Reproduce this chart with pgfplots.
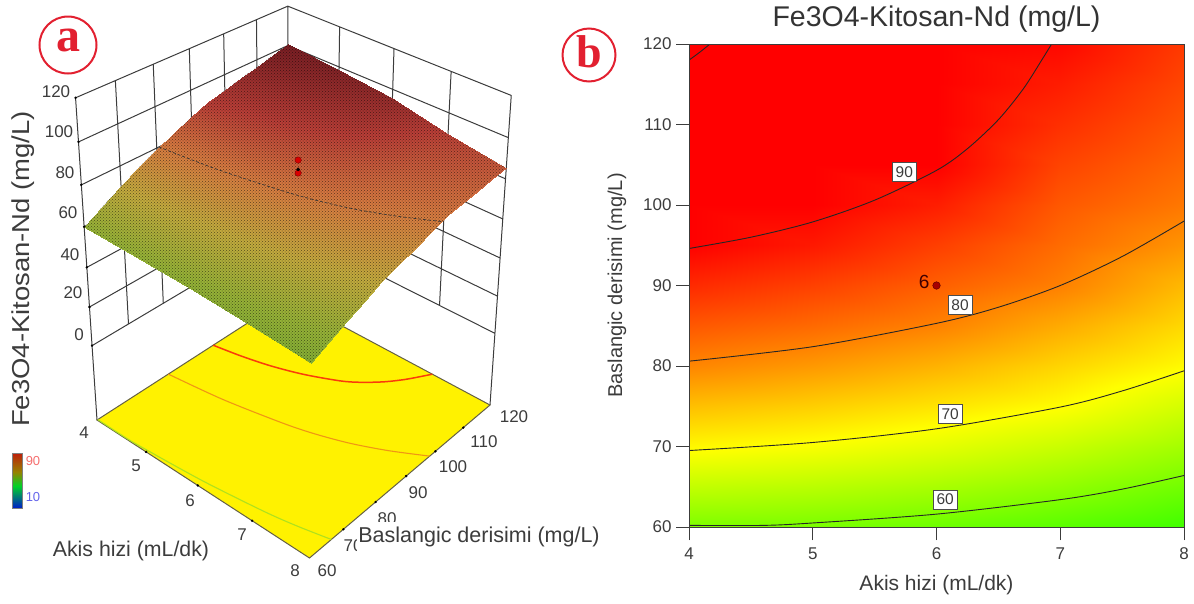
\documentclass[border=0pt]{standalone}
\usepackage{pgfplots}
\usepackage{pgfplotstable}
\usepackage{fontspec}
\usetikzlibrary{patterns}
\setmainfont{Liberation Sans}
\newfontfamily\serifb{Liberation Serif}[BoldFont={Liberation Serif Bold}]
\pgfplotsset{compat=1.18}
\definecolor{tx}{RGB}{60,60,60}
\definecolor{wallc}{RGB}{60,60,60}
\definecolor{circ}{RGB}{226,32,48}
\pgfplotsset{
  /pgf/declare function={
    Uu(\a)=(\a-4)/4; Vv(\b)=(\b-60)/60; Ww(\c)=(\c+40)/160;
    Dd(\a,\b,\c)=1-0.09774*Uu(\a)+0.13931*Vv(\b)-0.10*Ww(\c);
    PX(\a,\b,\c)=(97+182.25*Uu(\a)+231.12*Vv(\b)-29*Ww(\c))/Dd(\a,\b,\c);
    PY(\a,\b,\c)=(420+83.46*Uu(\a)-81.62*Vv(\b)-332*Ww(\c))/Dd(\a,\b,\c);
  },
  /pgfplots/table/proj/.style={x expr={PX(\thisrow{x},\thisrow{y},\thisrow{z})},y expr={PY(\thisrow{x},\thisrow{y},\thisrow{z})}},
  /pgfplots/table/projz/.style={x expr={PX(\thisrow{x},\thisrow{y},#1)},y expr={PY(\thisrow{x},\thisrow{y},#1)}},
}
\pgfplotstableread{
x y z
4 60 59.8
4 65 65.2
4 70 70.5
4 75 75
4 80 79.5
4 85 83.1
4 90 86.7
4 95 90.2
4 100 92.3
4 105 94.4
4 110 96.6
4 115 98.7
4 120 100.9
5 60 59.5
5 65 64.5
5 70 69.5
5 75 73.8
5 80 78
5 85 81.7
5 90 84.9
5 95 88.1
5 100 90.8
5 105 92.7
5 110 94.6
5 115 96.5
5 120 98.4
6 60 58.5
6 65 63.2
6 70 67.9
6 75 72.1
6 80 76
6 85 79.8
6 90 82.5
6 95 85.1
6 100 87.7
6 105 90.2
6 110 92
6 115 93.7
6 120 95.5
7 60 57
7 65 61.4
7 70 65.7
7 75 70.1
7 80 73.3
7 85 76.6
7 90 79.9
7 95 81.6
7 100 83.1
7 105 84.7
7 110 86.3
7 115 87.8
7 120 89.4
8 60 55
8 65 58.9
8 70 62.8
8 75 66.6
8 80 70.3
8 85 73
8 90 75.5
8 95 78.4
8 100 80.6
8 105 82
8 110 83.3
8 115 84.5
8 120 85.5
}\surfdata
\pgfplotstableread{
x y z
4 60 59.8
4 70 70.5
4 80 79.5
4 90 86.7
4 100 92.3
4 110 96.6
4 120 100.9
5 120 98.4
6 120 95.5
7 120 89.4
8 120 85.5
8 110 83.3
8 100 80.6
8 90 75.5
8 80 70.3
8 70 62.8
8 60 55
7 60 57
6 60 58.5
5 60 59.5
}\surfedge
\pgfplotstableread{
x y
4 60.2
4.6 60.2
5 60.5
6 61.6
7 63.4
7.5 64.7
8 66.4
}\cSixty
\pgfplotstableread{
x y
4 69.5
5 70.5
6 72.2
7 74.9
7.5 76.9
8 79.4
}\cSeventy
\pgfplotstableread{
x y
4 80.6
5 82.4
6 85.3
6.5 87.3
7 90
7.5 93.6
8 98
}\cEighty
\pgfplotstableread{
x y
4 94.6
4.5 96
5 97.9
5.5 100.6
6 104.3
6.25 107
6.5 110.6
6.7 114.4
6.85 118
6.93 120
}\cNinety
\pgfplotstableread{
x y
4 118
4.08 118.9
4.17 120
}\cHundred
\begin{document}
\begin{tikzpicture}[x=1pt,y=1pt]
\path (0,0) rectangle (1194pt,603pt);
% ---------- left panel, in picture coordinates through a projection of x,y,z
\begin{axis}[
  at={(0pt,0pt)},anchor=south west,
  width=1194pt,height=603pt,scale only axis,
  xmin=0,xmax=1194,ymin=0,ymax=603,y dir=reverse,
  hide axis,clip=false,
  colormap={darkde}{rgb255(0)=(115,170,50) rgb255(1)=(150,178,55) rgb255(2)=(195,170,62) rgb255(3)=(215,125,65) rgb255(4)=(185,62,55) rgb255(5)=(120,30,35)},
  point meta min=50,point meta max=100,
]
% walls
\addplot[wallc,line width=1pt,forget plot] table[proj] {
x y z
4 60 0
4 120 0
8 120 0

4 60 20
4 120 20
8 120 20

4 60 40
4 120 40
8 120 40

4 60 60
4 120 60
8 120 60

4 60 80
4 120 80
8 120 80

4 60 100
4 120 100
8 120 100

4 60 120
4 120 120
8 120 120

4 60 -40
4 60 120

4 70 0
4 70 120

4 80 0
4 80 120

4 90 0
4 90 120

4 100 0
4 100 120

4 110 0
4 110 120

4 120 0
4 120 120

5 120 0
5 120 120

6 120 0
6 120 120

7 120 0
7 120 120

8 120 -40
8 120 120
};
% floor
\addplot[fill=yellow,draw=black!70!yellow,line width=1pt,forget plot] table[proj] {
x y z
4 60 -40
8 60 -40
8 120 -40
4 120 -40
} -- cycle;
\addplot[smooth,color={rgb,255:red,250;green,60;blue,10},line width=1.5pt,forget plot] table[projz=-40] {\cNinety};
\addplot[smooth,color={rgb,255:red,240;green,150;blue,20},line width=1.1pt,forget plot] table[projz=-40] {\cEighty};
\addplot[smooth,color={rgb,255:red,175;green,225;blue,30},line width=1.1pt,forget plot] table[projz=-40] {\cSixty};
% surface
\addplot[surf,shader=interp,mesh/rows=5,mesh/cols=13,point meta=\thisrow{z},forget plot] table[proj] {\surfdata};
\addplot[draw=none,pattern=crosshatch dots,pattern color=black,fill opacity=0.55,forget plot] table[proj] {\surfedge} -- cycle;
\addplot[smooth,black!80,densely dashed,line width=0.7pt,forget plot] table[projz=80] {\cEighty};
% design points
\addplot[only marks,mark=*,mark size=3.2pt,mark options={fill=red!85!black,draw=red!50!black},forget plot] table[proj] {
x y z
6 90 90.4
6 90 84.2
};
\addplot[only marks,mark=*,mark size=1.6pt,black,forget plot] table[proj] {
x y z
6 90 86
};
% z ticks
\addplot[only marks,mark=*,mark size=1pt,black,forget plot] table[proj] {
x y z
4 60 0
4 60 20
4 60 40
4 60 60
4 60 80
4 60 100
4 60 120
5 60 -40
6 60 -40
7 60 -40
8 70 -40
8 80 -40
8 90 -40
8 100 -40
8 110 -40
};
\begin{scope}[every node/.style={text=tx,font=\fontsize{17}{20}\selectfont,inner sep=0pt}]
\node at (axis cs:56,92) {120};
\node at (axis cs:59,132) {100};
\node at (axis cs:65,173) {80};
\node at (axis cs:68,213) {60};
\node at (axis cs:70,255) {40};
\node at (axis cs:73,293) {20};
\node at (axis cs:79,335) {0};
\node at (axis cs:84,433) {4};
\node at (axis cs:136,466) {5};
\node at (axis cs:190,501) {6};
\node at (axis cs:242,535) {7};
\node at (axis cs:295,571) {8};
\node at (axis cs:327,571) {60};
\node at (axis cs:353,546) {70};
\node at (axis cs:387,519) {80};
\node at (axis cs:418,493) {90};
\node at (axis cs:453,467) {100};
\node at (axis cs:484,442) {110};
\node at (axis cs:514,417) {120};
\node[fill=white,inner xsep=1pt,inner ysep=5pt,font=\fontsize{21.5}{25}\selectfont] at (axis cs:479,537) {Baslangic derisimi (mg/L)};
\node[font=\fontsize{21.3}{25}\selectfont] at (axis cs:131,551) {Akis hizi (mL/dk)};
\node[rotate=90,font=\fontsize{24.5}{28}\selectfont] at (axis cs:23,269) {\scalebox{1.12}[1]{Fe3O4-Kitosan-Nd (mg/L)}};
\end{scope}
% colour bar
\shade[bottom color={rgb,255:red,150;green,130;blue,0},top color={rgb,255:red,190;green,30;blue,10}] (axis cs:12,453) rectangle (axis cs:22,472);
\shade[bottom color={rgb,255:red,0;green,210;blue,40},top color={rgb,255:red,150;green,130;blue,0}] (axis cs:12,472) rectangle (axis cs:22,486);
\shade[bottom color={rgb,255:red,0;green,30;blue,200},top color={rgb,255:red,0;green,210;blue,40}] (axis cs:12,486) rectangle (axis cs:22,508);
\draw[gray,line width=0.6pt] (axis cs:12,453) rectangle (axis cs:22,508);
\node[text={rgb,255:red,245;green,110;blue,110},font=\fontsize{13}{15}\selectfont,inner sep=0pt] at (axis cs:33,461) {90};
\node[text={rgb,255:red,100;green,100;blue,235},font=\fontsize{13}{15}\selectfont,inner sep=0pt] at (axis cs:33,497) {10};
% panel letters
\draw[circ,line width=2pt] (axis cs:68,45) circle[radius=28.5pt];
\node[text=circ,font=\fontsize{48}{50}\selectfont\serifb\bfseries,inner sep=0pt] at (axis cs:68,40) {a};
\draw[circ,line width=2pt] (axis cs:589,55) circle[radius=26.5pt];
\node[text=circ,font=\fontsize{46}{50}\selectfont\serifb\bfseries,inner sep=0pt] at (axis cs:589,52) {b};
\end{axis}
% ---------- right panel
\begin{axis}[
  at={(689pt,76pt)},anchor=south west,
  width=495pt,height=483pt,scale only axis,
  xmin=4,xmax=8,ymin=60,ymax=120,
  xtick={4,5,6,7,8},ytick={60,70,...,120},
  view={0}{90},
  axis on top,
  tick align=outside,major tick length=13pt,
  axis line style={wallc,line width=0.9pt},
  tick style={wallc,line width=0.9pt},
  tick pos=left,
  /pgf/number format/assume math mode=true,
  tick label style={text=tx,font=\fontsize{17}{20}\selectfont},
  xticklabel style={yshift=-4pt},
  yticklabel style={xshift=-1pt},
  title={Fe3O4-Kitosan-Nd (mg/L)},
  title style={at={(axis description cs:0.5,1.039)},anchor=center,text=black!80,font=\fontsize{28.5}{32}\selectfont},
  xlabel={Akis hizi (mL/dk)},
  xlabel style={at={(axis description cs:0.5,-0.12)},anchor=center,text=tx,font=\fontsize{21}{25}\selectfont},
  ylabel={Baslangic derisimi (mg/L)},
  ylabel style={at={(axis description cs:-0.1455,0.5)},anchor=center,text=tx,font=\fontsize{20}{25}\selectfont},
  colormap={de}{rgb255(0)=(0,0,255) rgb255(1)=(0,255,255) rgb255(2)=(0,255,0) rgb255(3)=(255,255,0) rgb255(4)=(255,0,0)},
  point meta min=10,point meta max=90,
]
\addplot3[surf,shader=interp,mesh/rows=5,mesh/cols=13,forget plot] table[x=x,y=y,z=z] {\surfdata};
\addplot[smooth,black!85,line width=0.9pt] table[x=x,y=y] {\cSixty};
\addplot[smooth,black!85,line width=0.9pt] table[x=x,y=y] {\cSeventy};
\addplot[smooth,black!85,line width=0.9pt] table[x=x,y=y] {\cEighty};
\addplot[smooth,black!85,line width=0.9pt] table[x=x,y=y] {\cNinety};
\addplot[smooth,black!85,line width=0.9pt] table[x=x,y=y] {\cHundred};
\addplot[only marks,mark=*,mark size=3.8pt,mark options={fill=red!65!black,draw=red!35!black}] coordinates {(6,90)};
\begin{scope}[every node/.style={draw=black!70,line width=0.7pt,fill=white,text=tx,font=\fontsize{15.5}{18}\selectfont,minimum width=24pt,minimum height=19pt,inner sep=0pt}]
\node at (axis cs:5.74,104.1) {90};
\node at (axis cs:6.19,87.6) {80};
\node at (axis cs:6.11,74) {70};
\node at (axis cs:6.07,63.4) {60};
\end{scope}
\node[text=black!75!red,font=\fontsize{19}{22}\selectfont,inner sep=0pt] at (axis cs:5.9,90.5) {6};
\end{axis}
\end{tikzpicture}
\end{document}
